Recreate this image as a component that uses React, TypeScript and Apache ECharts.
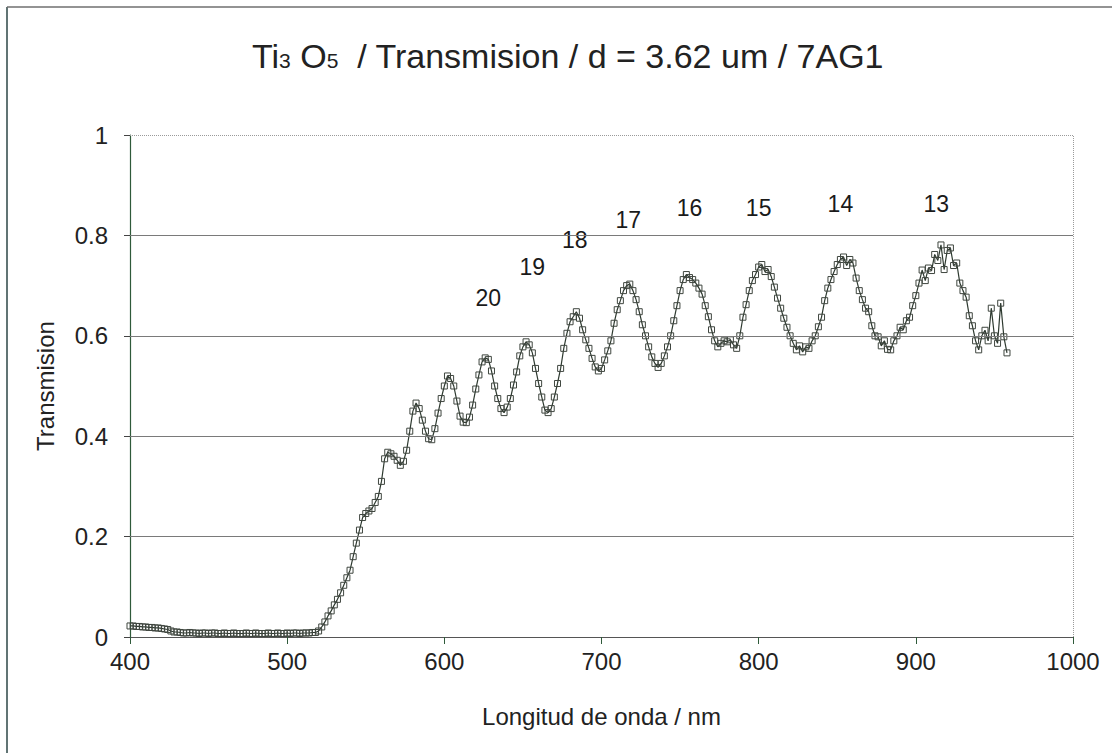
import React, { useEffect, useRef } from "react";
import * as echarts from "echarts";

// Wavelength (nm) / transmission pairs
const spectrum: [number, number][] = [
  [400, 0.022], [402, 0.022], [404, 0.021], [406, 0.021], [408, 0.02], [410, 0.02],
  [412, 0.019], [414, 0.019], [416, 0.018], [418, 0.018], [420, 0.017], [422, 0.016],
  [424, 0.015], [426, 0.012], [428, 0.01], [430, 0.01],
  [432, 0.009], [434, 0.008], [436, 0.008], [438, 0.009], [440, 0.008], [442, 0.008],
  [444, 0.007], [446, 0.008], [448, 0.008], [450, 0.007], [452, 0.008], [454, 0.008],
  [456, 0.007], [458, 0.007], [460, 0.008], [462, 0.007], [464, 0.007], [466, 0.008],
  [468, 0.007], [470, 0.007], [472, 0.007], [474, 0.008], [476, 0.007], [478, 0.007],
  [480, 0.008], [482, 0.007], [484, 0.007], [486, 0.007], [488, 0.008], [490, 0.007],
  [492, 0.007], [494, 0.008], [496, 0.007], [498, 0.007], [500, 0.008], [502, 0.007],
  [504, 0.008], [506, 0.008], [508, 0.007], [510, 0.008], [512, 0.008], [514, 0.008],
  [516, 0.009], [518, 0.009], [520, 0.012], [522, 0.02], [524, 0.03], [526, 0.042],
  [528, 0.052], [530, 0.064], [532, 0.075], [534, 0.088], [536, 0.103], [538, 0.118],
  [540, 0.133], [542, 0.16], [544, 0.187], [546, 0.213], [548, 0.238], [550, 0.246],
  [552, 0.251], [554, 0.256], [556, 0.268], [558, 0.28], [560, 0.31], [562, 0.355],
  [564, 0.368], [566, 0.365], [568, 0.36], [570, 0.352], [572, 0.342], [574, 0.35],
  [576, 0.372], [578, 0.41], [580, 0.45], [582, 0.466], [584, 0.455], [586, 0.432],
  [588, 0.41], [590, 0.395], [592, 0.393], [594, 0.415], [596, 0.446], [598, 0.475],
  [600, 0.5], [602, 0.52], [604, 0.515], [606, 0.5], [608, 0.47], [610, 0.44],
  [612, 0.428], [614, 0.427], [616, 0.438], [618, 0.462], [620, 0.494], [622, 0.522],
  [624, 0.548], [626, 0.556], [628, 0.553], [630, 0.53], [632, 0.5], [634, 0.475],
  [636, 0.455], [638, 0.447], [640, 0.458], [642, 0.475], [644, 0.502], [646, 0.528],
  [648, 0.56], [650, 0.578], [652, 0.588], [654, 0.582], [656, 0.566], [658, 0.535],
  [660, 0.505], [662, 0.478], [664, 0.452], [666, 0.447], [668, 0.455], [670, 0.478],
  [672, 0.505], [674, 0.535], [676, 0.575], [678, 0.605], [680, 0.628], [682, 0.638],
  [684, 0.648], [686, 0.635], [688, 0.612], [690, 0.592], [692, 0.575], [694, 0.555],
  [696, 0.538], [698, 0.53], [700, 0.535], [702, 0.552], [704, 0.57], [706, 0.59],
  [708, 0.625], [710, 0.652], [712, 0.67], [714, 0.69], [716, 0.7], [718, 0.703],
  [720, 0.69], [722, 0.672], [724, 0.648], [726, 0.622], [728, 0.6], [730, 0.578],
  [732, 0.558], [734, 0.545], [736, 0.537], [738, 0.545], [740, 0.56], [742, 0.578],
  [744, 0.6], [746, 0.63], [748, 0.66], [750, 0.69], [752, 0.712], [754, 0.722],
  [756, 0.716], [758, 0.712], [760, 0.705], [762, 0.695], [764, 0.683], [766, 0.66],
  [768, 0.638], [770, 0.612], [772, 0.59], [774, 0.578], [776, 0.585], [778, 0.59],
  [780, 0.588], [782, 0.592], [784, 0.582], [786, 0.575], [788, 0.6], [790, 0.637],
  [792, 0.662], [794, 0.69], [796, 0.71], [798, 0.722], [800, 0.737], [802, 0.742],
  [804, 0.728], [806, 0.732], [808, 0.718], [810, 0.697], [812, 0.675], [814, 0.655],
  [816, 0.635], [818, 0.617], [820, 0.6], [822, 0.585], [824, 0.572], [826, 0.58],
  [828, 0.568], [830, 0.578], [832, 0.575], [834, 0.59], [836, 0.6], [838, 0.618],
  [840, 0.637], [842, 0.67], [844, 0.695], [846, 0.712], [848, 0.728], [850, 0.742],
  [852, 0.752], [854, 0.757], [856, 0.74], [858, 0.752], [860, 0.745], [862, 0.715],
  [864, 0.69], [866, 0.672], [868, 0.655], [870, 0.648], [872, 0.62], [874, 0.6],
  [876, 0.598], [878, 0.58], [880, 0.59], [882, 0.573], [884, 0.572], [886, 0.59],
  [888, 0.6], [890, 0.617], [892, 0.612], [894, 0.63], [896, 0.637], [898, 0.66],
  [900, 0.68], [902, 0.705], [904, 0.731], [906, 0.71], [908, 0.735], [910, 0.73],
  [912, 0.762], [914, 0.75], [916, 0.781], [918, 0.732], [920, 0.77], [922, 0.775],
  [924, 0.74], [926, 0.745], [928, 0.705], [930, 0.69], [932, 0.677], [934, 0.64],
  [936, 0.62], [938, 0.59], [940, 0.572], [942, 0.6], [944, 0.611], [946, 0.59],
  [948, 0.655], [950, 0.6], [952, 0.585], [954, 0.665], [956, 0.598], [958, 0.566],
];

// Interference order labels and their positions
const orderLabels = ["20", "19", "18", "17", "16", "15", "14", "13"];
const orderLabelNm = [628, 656, 683, 717, 756, 800, 852, 913];
const orderLabelT = [0.675, 0.737, 0.791, 0.831, 0.855, 0.855, 0.863, 0.863];

const yTicks = [0.2, 0.4, 0.6, 0.8];
const xMin = 400;
const xMax = 1000;
const xStep = 100;
const yMin = 0;
const yMax = 1;
const yStep = 0.2;

const FONT = '"Liberation Sans", Arial, sans-serif';

export default function App() {
  const ref = useRef<HTMLDivElement>(null);

  useEffect(() => {
    if (!ref.current) return;
    const chart = echarts.init(ref.current, undefined, { renderer: "svg" });

    const gridLines = yTicks.map((v) => ({
      yAxis: v,
      lineStyle: { color: "#7a7a7a", width: 1, type: "solid" as const },
    }));

    chart.setOption({
      animation: false,
      backgroundColor: "#ffffff",
      textStyle: { fontFamily: FONT },
      title: {
        text:
          "{n|Ti}{s|3}{n| O}{s|5}{n|  / Transmision / d = 3.62 um / 7AG1}",
        left: 247,
        top: 34,
        textStyle: {
          fontWeight: "normal",
          rich: {
            n: { fontSize: 34, fontFamily: FONT, fontWeight: "normal", color: "#222", verticalAlign: "bottom" },
            s: { fontSize: 21, fontFamily: FONT, fontWeight: "normal", color: "#222", verticalAlign: "bottom", padding: [0, 0, 2, 0] },
          },
        },
      },
      grid: { left: 130, right: 39, top: 135, bottom: 116, containLabel: false },
      graphic: [
        {
          type: "line",
          shape: { x1: 7, y1: 7, x2: 7, y2: 753 },
          style: { stroke: "#2c4646", lineWidth: 1.5 },
        },
        {
          type: "line",
          shape: { x1: 7, y1: 7, x2: 1112, y2: 7 },
          style: { stroke: "#6f6f6f", lineWidth: 1.5 },
        },
      ],
      xAxis: {
        type: "value",
        min: xMin,
        max: xMax,
        interval: xStep,
        name: "Longitud de onda / nm",
        nameLocation: "middle",
        nameGap: 67,
        nameTextStyle: { fontSize: 24, color: "#222", fontFamily: FONT },
        axisLine: { show: true, lineStyle: { color: "#555", width: 1 } },
        axisTick: { show: true, inside: false, length: 7, lineStyle: { color: "#2f5a3a" } },
        axisLabel: {
          fontSize: 24,
          color: "#222",
          margin: 12,
          fontFamily: FONT,
          formatter: (v: number) => String(v),
        },
        splitLine: { show: false },
      },
      yAxis: {
        type: "value",
        min: yMin,
        max: yMax,
        interval: yStep,
        name: "Transmision",
        nameLocation: "middle",
        nameGap: 73,
        nameTextStyle: { fontSize: 24, color: "#222", fontFamily: FONT },
        axisLine: { show: true, lineStyle: { color: "#2f5a3a", width: 1.2 } },
        axisTick: { show: true, inside: false, length: 6, lineStyle: { color: "#444" } },
        axisLabel: {
          fontSize: 24,
          color: "#222",
          margin: 22,
          fontFamily: FONT,
          formatter: (v: number) => String(Math.round(v * 10) / 10),
        },
        splitLine: { show: false },
      },
      series: [
        {
          type: "line",
          data: spectrum,
          symbol: "rect",
          symbolSize: 6,
          showSymbol: true,
          showAllSymbol: true,
          itemStyle: {
            color: "rgba(255,255,255,0)",
            borderColor: "#3f463f",
            borderWidth: 1,
          },
          lineStyle: { color: "#2e3a30", width: 1.2 },
          emphasis: { disabled: true },
          z: 3,
          markLine: {
            silent: true,
            symbol: "none",
            label: { show: false },
            animation: false,
            data: [
              ...gridLines,
              { yAxis: yMax, lineStyle: { color: "#9a9a9a", width: 1, type: "dotted" } },
              { xAxis: xMax, lineStyle: { color: "#9a9a9a", width: 1, type: "dotted" } },
            ],
          },
        },
        {
          type: "scatter",
          data: orderLabels.map((l, i) => [orderLabelNm[i], orderLabelT[i], l]),
          symbolSize: 0,
          itemStyle: { color: "#222", opacity: 1 },
          label: {
            show: true,
            position: "inside",
            formatter: (p: any) => p.data[2],
            fontSize: 23,
            color: "#1a1a1a",
            opacity: 1,
            textBorderWidth: 0,
            fontFamily: FONT,
          },
          silent: true,
          z: 4,
        },
      ],
    });

    return () => chart.dispose();
  }, []);

  return (
    <div
      ref={ref}
      style={{ position: "fixed", left: 0, top: 0, width: 1112, height: 753 }}
    />
  );
}
